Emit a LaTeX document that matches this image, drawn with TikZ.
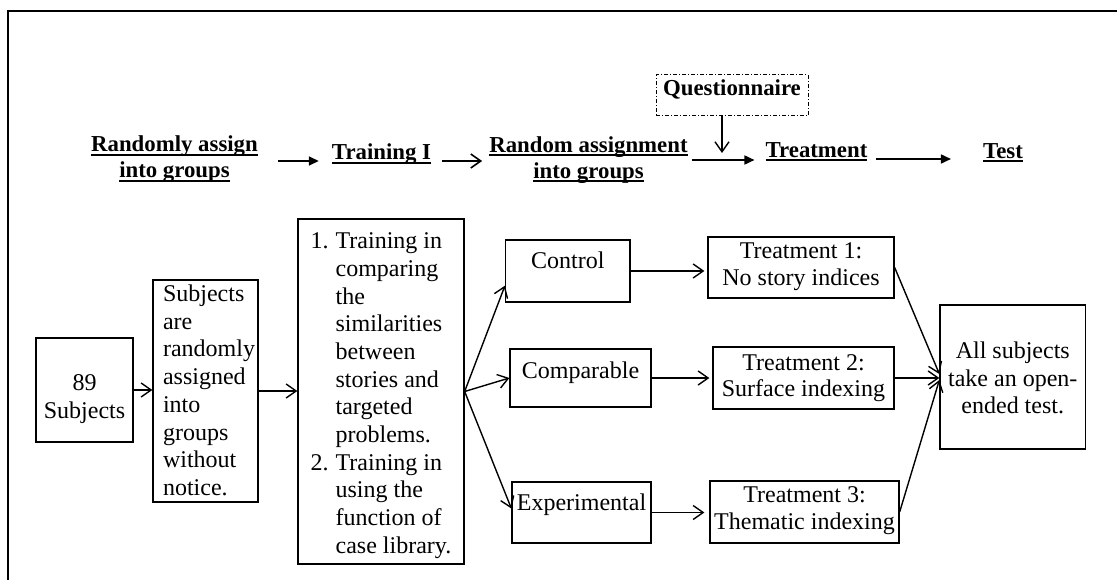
\documentclass[tikz,border=0pt]{standalone}
\usepackage{fontspec}
\setmainfont{Liberation Serif}
\usetikzlibrary{arrows.meta}

% heading and box fonts
\newcommand\hdfont{\fontsize{22.8}{26}\selectfont\bfseries}
\newcommand\bxfont{\fontsize{24}{27.7}\selectfont}
% thick underline just below the baseline
\newcommand\hul[1]{\setbox0\hbox{#1}\rlap{\rule[-4pt]{\wd0}{2.4pt}}\box0}
% move box text up/down without changing the box extents
\newcommand\vmove[2]{\raisebox{#1}[\height][\depth]{#2}}

\tikzset{
  box/.style={draw, line width=1.3pt, inner sep=0pt, font=\bxfont},
  hd/.style={inner sep=0pt, anchor=base, font=\hdfont},
  harr/.style={line width=1.7pt, -{Triangle[length=10pt,width=9pt]}},
  oarr/.style={line width=1.4pt, -{Straight Barb[length=10pt,width=14pt]}},
}

\begin{document}
\begin{tikzpicture}[x=1pt,y=-1pt]
\useasboundingbox (0,0) rectangle (1117,580);

% outer frame
\draw[line width=2.2pt] (7.7,584) -- (7.7,11.2) -- (1121,11.2);

% ---- stage headings ----
\node[hd] (h1) at (174.5,152) {\begin{tabular}[t]{@{}c@{}}\hul{Randomly assign}\\\hul{into groups}\end{tabular}};
\node[hd] (h2) at (381.5,160) {\hul{Training I}};
\node[hd] (h3) at (588.5,152.5) {\begin{tabular}[t]{@{}c@{}}\hul{Random assignment}\\\hul{into groups}\end{tabular}};
\node[hd] (h4) at (816.5,157.5) {\hul{Treatment}};
\node[hd] (h5) at (1003,158.5) {\hul{Test}};

\node[draw, line width=1pt, dash pattern=on 4pt off 2pt on 1pt off 2pt,
      inner sep=0pt, minimum width=152pt, minimum height=41pt, font=\hdfont]
      (q) at (732,95.5) {\vmove{5pt}{\begin{tabular}{@{}c@{}}Questionnaire\end{tabular}}};

\coordinate (r1) at (0,161);
\coordinate (r3) at (0,160);
\coordinate (r4) at (0,159);
\coordinate (qt) at (722,153);

\draw[harr] ([xshift=20pt]h1.east |- r1) -- ([xshift=-13pt]h2.west |- r1);
\draw[oarr, line width=1.6pt] ([xshift=11pt]h2.east |- r1) -- ([xshift=-7pt]h3.west |- r1);
\draw[harr] ([xshift=4pt]h3.east |- r3) -- ([xshift=-11pt]h4.west |- r3);
\draw[harr] ([xshift=8pt]h4.east |- r4) -- ([xshift=-32pt]h5.west |- r4);
\draw[oarr] (q.south -| qt) -- (qt);

% ---- procedure boxes ----
\node[box, minimum width=97pt, minimum height=104pt] (n89) at (84.5,390)
  {\vmove{-9pt}{\begin{tabular}{@{}c@{}}89\\Subjects\end{tabular}}};

\node[box, minimum width=105pt, minimum height=222pt] (asg) at (205.5,391)
  {\vmove{-2pt}{\hspace*{7pt}\begin{tabular}{@{}l@{}}Subjects\\are\\randomly\\assigned\\into\\groups\\without\\notice.\end{tabular}}};

\node[box, minimum width=166pt, minimum height=345pt] (trn) at (381,391.5)
  {\vmove{-4pt}{\begin{tabular}{@{}r@{\hspace{7pt}}l@{}}
   1. & Training in\\ & comparing\\ & the\\ & similarities\\ & between\\ & stories and\\
      & targeted\\ & problems.\\
   2. & Training in\\ & using the\\ & function of\\ & case library.\end{tabular}}};

\node[box, minimum width=124.4pt, minimum height=62pt] (ctrl) at (567.8,271)
  {\vmove{8pt}{\begin{tabular}{@{}c@{}}Control\end{tabular}}};
\node[box, minimum width=141pt, minimum height=58pt] (comp) at (580.5,378)
  {\vmove{5pt}{\begin{tabular}{@{}c@{}}Comparable\end{tabular}}};
\node[box, minimum width=139pt, minimum height=61pt] (exp) at (581.5,512.5)
  {\vmove{7.5pt}{\begin{tabular}{@{}c@{}}Experimental\end{tabular}}};

\node[box, minimum width=186pt, minimum height=61pt] (t1) at (801,267.5)
  {\vmove{1pt}{\begin{tabular}{@{}c@{}}Treatment 1:\\[-1.5pt]No story indices\end{tabular}}};
\node[box, minimum width=181pt, minimum height=62pt] (t2) at (803.5,378)
  {\vmove{0pt}{\begin{tabular}{@{}c@{}}Treatment 2:\\[-1.5pt]Surface indexing\end{tabular}}};
\node[box, minimum width=189pt, minimum height=62pt] (t3) at (804.5,512)
  {\vmove{1.5pt}{\begin{tabular}{@{}c@{}}Treatment 3:\\[-1.5pt]Thematic indexing\end{tabular}}};

\node[box, minimum width=145.5pt, minimum height=144pt] (all) at (1012.75,377)
  {\vmove{-3.5pt}{\begin{tabular}{@{}c@{}}All subjects\\take an open-\\ended test.\end{tabular}}};

% ---- connectors ----
\draw[oarr] (n89.east) -- (n89.east -| asg.west);
\draw[oarr] (asg.east) -- (asg.east -| trn.west);
\draw[oarr] (trn.east) -- ([yshift=17pt]ctrl.south west);
\draw[oarr] (trn.east) -- (comp.west);
\draw[oarr] (trn.east) -- ([yshift=4pt]exp.west);
\draw[oarr, shorten >=3pt] (ctrl.east) -- (ctrl.east -| t1.west);
\draw[oarr, shorten >=3pt] (comp.east) -- (comp.east -| t2.west);
\draw[oarr, shorten >=5pt] (exp.east) -- (exp.east -| t3.west);
\draw[oarr] (t1.east) -- ([yshift=3pt]all.west);
\draw[oarr] (t2.east) -- (t2.east -| all.west);
\draw[oarr] (t3.east) -- ([yshift=-3pt]all.west);
\end{tikzpicture}
\end{document}
